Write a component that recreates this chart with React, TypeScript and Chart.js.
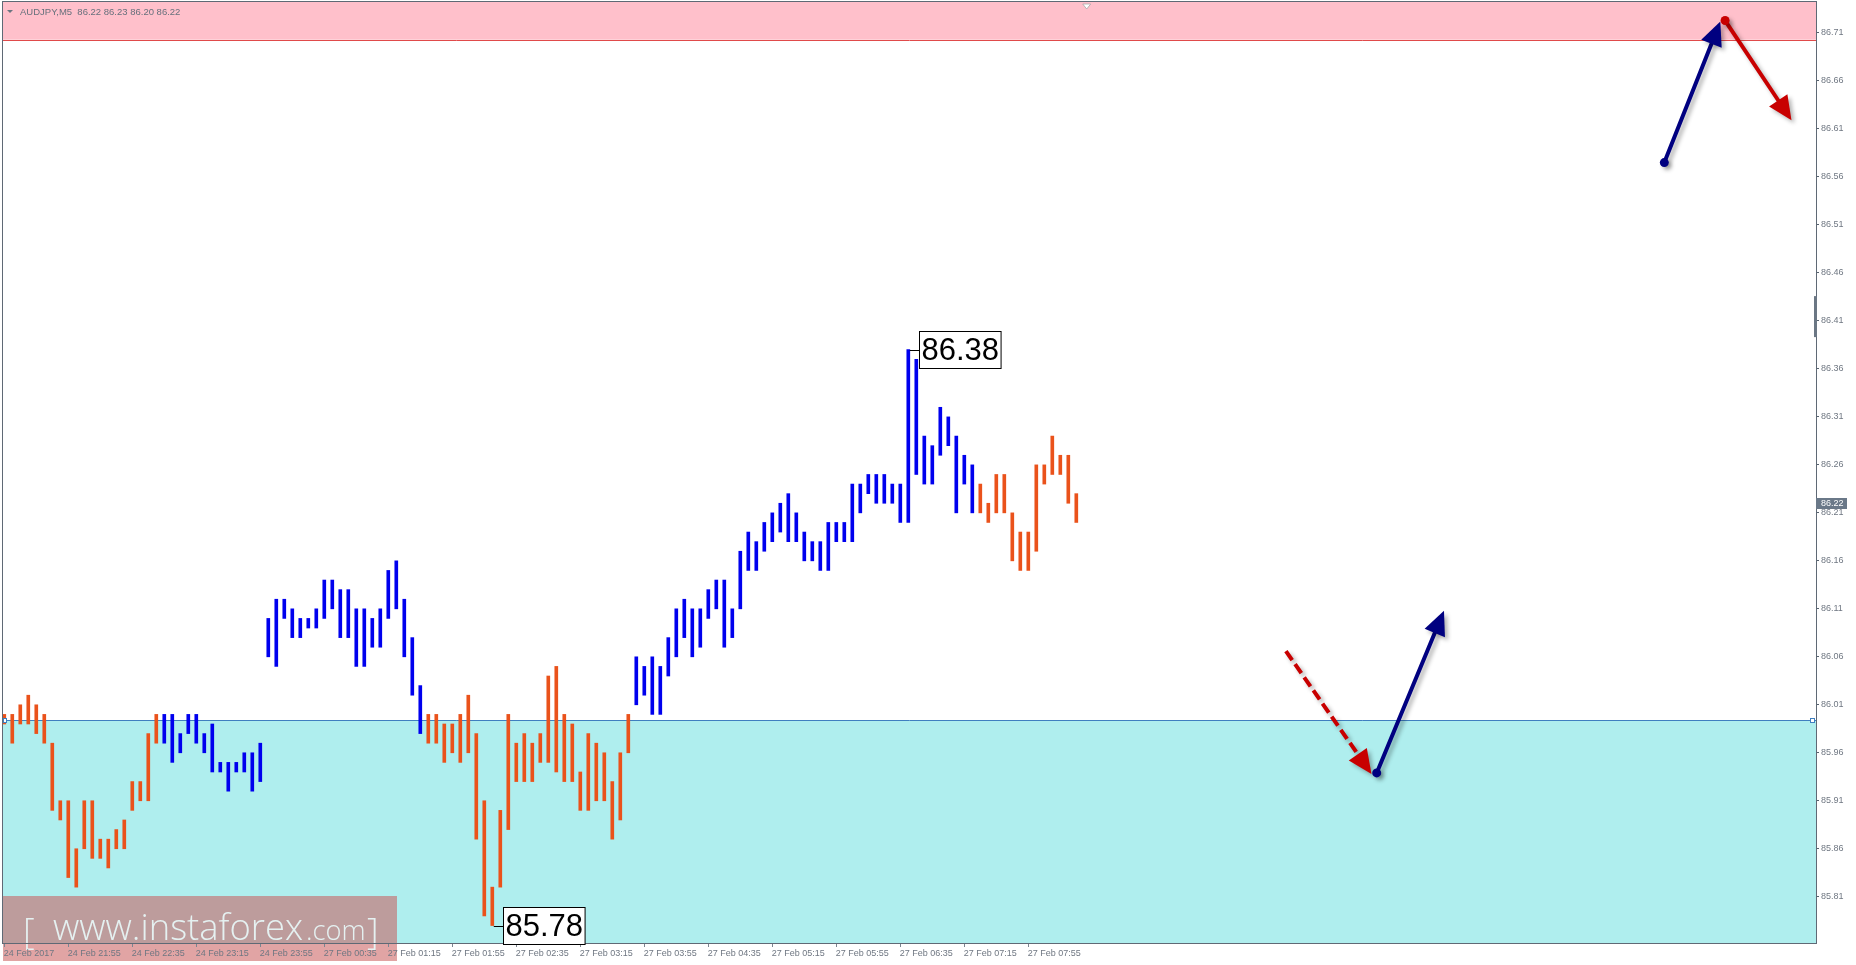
import React, { useEffect, useRef } from "react";
import { Chart, registerables } from "chart.js";

Chart.register(...registerables);

const W = 1856;
const H = 965;
const FONT = '"Liberation Sans", Arial, sans-serif';

// ---- data (AUDJPY M5, bar index 0 = 24 Feb 21:15) ----
const barLows = [
  85.99, 85.97, 85.99, 85.99, 85.98, 85.97, 85.90, 85.89, 85.83, 85.82,
  85.86, 85.85, 85.85, 85.84, 85.86, 85.86, 85.90, 85.91, 85.91, 85.97,
  85.97, 85.95, 85.96, 85.98, 85.97, 85.96, 85.94, 85.94, 85.92, 85.94,
  85.94, 85.92, 85.93, 86.06, 86.05, 86.10, 86.08, 86.08, 86.09, 86.09,
  86.10, 86.11, 86.08, 86.08, 86.05, 86.05, 86.07, 86.07, 86.10, 86.11,
  86.06, 86.02, 85.98, 85.97, 85.97, 85.95, 85.96, 85.95, 85.96, 85.87,
  85.79, 85.78, 85.82, 85.88, 85.93, 85.93, 85.93, 85.95, 85.95, 85.94,
  85.93, 85.93, 85.90, 85.90, 85.91, 85.91, 85.87, 85.89, 85.96, 86.01,
  86.02, 86.00, 86.00, 86.04, 86.06, 86.08, 86.06, 86.07, 86.10, 86.11,
  86.07, 86.08, 86.11, 86.15, 86.15, 86.17, 86.18, 86.19, 86.18, 86.18,
  86.16, 86.16, 86.15, 86.15, 86.18, 86.18, 86.18, 86.21, 86.23, 86.22,
  86.22, 86.22, 86.20, 86.20, 86.25, 86.24, 86.24, 86.27, 86.28, 86.21,
  86.24, 86.21, 86.21, 86.20, 86.21, 86.21, 86.16, 86.15, 86.15, 86.17,
  86.24, 86.25, 86.25, 86.22, 86.20,
];
const barHighs = [
  86.00, 86.00, 86.01, 86.02, 86.01, 86.00, 85.97, 85.91, 85.91, 85.86,
  85.91, 85.91, 85.87, 85.87, 85.88, 85.89, 85.93, 85.93, 85.98, 86.00,
  86.00, 86.00, 85.98, 86.00, 86.00, 85.98, 85.99, 85.95, 85.95, 85.95,
  85.96, 85.96, 85.97, 86.10, 86.12, 86.12, 86.11, 86.10, 86.10, 86.11,
  86.14, 86.14, 86.13, 86.13, 86.11, 86.11, 86.10, 86.11, 86.15, 86.16,
  86.12, 86.08, 86.03, 86.00, 86.00, 85.99, 85.99, 86.00, 86.02, 85.98,
  85.91, 85.82, 85.90, 86.00, 85.97, 85.98, 85.97, 85.98, 86.04, 86.05,
  86.00, 85.99, 85.94, 85.98, 85.97, 85.96, 85.93, 85.96, 86.00, 86.06,
  86.05, 86.06, 86.05, 86.08, 86.11, 86.12, 86.11, 86.11, 86.13, 86.14,
  86.14, 86.11, 86.17, 86.19, 86.18, 86.20, 86.21, 86.22, 86.23, 86.21,
  86.19, 86.18, 86.18, 86.20, 86.20, 86.20, 86.24, 86.24, 86.25, 86.25,
  86.25, 86.24, 86.24, 86.38, 86.37, 86.29, 86.28, 86.32, 86.31, 86.29,
  86.27, 86.26, 86.24, 86.22, 86.25, 86.25, 86.21, 86.19, 86.19, 86.26,
  86.26, 86.29, 86.27, 86.27, 86.23,
];
// wave colouring: [first bar, last bar, direction]
const waveSegments: [number, number, string][] = [
  [0, 19, "down"],
  [20, 52, "up"],
  [53, 78, "down"],
  [79, 121, "up"],
  [122, 134, "down"],
];
const xTickBars = [0, 8, 16, 24, 32, 40, 48, 56, 64, 72, 80, 88, 96, 104, 112, 120, 128];
const xTickLabels = [
  "24 Feb 2017", "24 Feb 21:55", "24 Feb 22:35", "24 Feb 23:15", "24 Feb 23:55",
  "27 Feb 00:35", "27 Feb 01:15", "27 Feb 01:55", "27 Feb 02:35", "27 Feb 03:15",
  "27 Feb 03:55", "27 Feb 04:35", "27 Feb 05:15", "27 Feb 05:55", "27 Feb 06:35",
  "27 Feb 07:15", "27 Feb 07:55",
];
const yTickValues = [
  86.71, 86.66, 86.61, 86.56, 86.51, 86.46, 86.41, 86.36, 86.31, 86.26,
  86.21, 86.16, 86.11, 86.06, 86.01, 85.96, 85.91, 85.86, 85.81,
];
const xMin = -0.16;
const xMax = 226.46;
const yMin = 85.7618;
const yMax = 86.7423;
const resistanceZoneLow = 86.703;
const supportZoneHigh = 85.994;
const extremeMarks = [
  { bar: 113, price: 86.38 },
  { bar: 61, price: 85.78 },
];
const lastPrice = 86.22;
const headerText = "AUDJPY,M5  86.22 86.23 86.20 86.22";
// forecast arrows in (bar index, price)
const arrowFromBar = [207.5, 215.1, 160.2, 171.55];
const arrowFromPrice = [86.575, 86.723, 86.066, 85.939];
const arrowToBar = [214.5, 223.4, 170.9, 179.96];
const arrowToPrice = [86.722, 86.619, 85.938, 86.108];
const arrowColors = ["#000080", "#c80000", "#c80000", "#000080"];
const arrowDashed = [false, false, true, false];
const arrowDot = [true, true, false, true];

const BLUE = "#0000ee";
const ORANGE = "#ea521b";

function barColor(i: number) {
  const s = waveSegments.find(([a, b]) => i >= a && i <= b);
  return s && s[2] === "up" ? BLUE : ORANGE;
}

function drawArrow(
  ctx: CanvasRenderingContext2D,
  x1: number, y1: number, x2: number, y2: number,
  color: string, dashed: boolean, dot: boolean
) {
  const ang = Math.atan2(y2 - y1, x2 - x1);
  const headLen = 24;
  const headW = 11;
  const c = Math.cos(ang), s = Math.sin(ang);
  const bx = x2 - headLen * c, by = y2 - headLen * s;
  ctx.save();
  ctx.shadowColor = "rgba(0,0,0,0.3)";
  ctx.shadowBlur = 4;
  ctx.shadowOffsetX = 3;
  ctx.shadowOffsetY = 3;
  ctx.strokeStyle = color;
  ctx.fillStyle = color;
  ctx.lineWidth = 4;
  ctx.lineCap = dashed ? "butt" : "round";
  if (dashed) ctx.setLineDash([11, 5]);
  ctx.beginPath();
  ctx.moveTo(x1, y1);
  ctx.lineTo(bx + 2 * c, by + 2 * s);
  ctx.stroke();
  ctx.setLineDash([]);
  ctx.beginPath();
  ctx.moveTo(x2, y2);
  ctx.lineTo(bx + headW * s, by - headW * c);
  ctx.lineTo(bx - headW * s, by + headW * c);
  ctx.closePath();
  ctx.fill();
  if (dot) {
    ctx.beginPath();
    ctx.arc(x1, y1, 4.5, 0, Math.PI * 2);
    ctx.fill();
  }
  ctx.restore();
}

const mt4Plugin = {
  id: "mt4",
  beforeDraw(chart: any) {
    const { ctx, chartArea: a, scales } = chart;
    const y = scales.y;
    const w = a.right - a.left;
    ctx.save();
    // resistance zone
    const yPink = y.getPixelForValue(resistanceZoneLow);
    ctx.fillStyle = "#ffc0cb";
    ctx.fillRect(a.left, a.top, w, yPink - a.top);
    ctx.strokeStyle = "#e04a4a";
    ctx.lineWidth = 1;
    ctx.beginPath();
    ctx.moveTo(a.left, Math.round(yPink) + 0.5);
    ctx.lineTo(a.right, Math.round(yPink) + 0.5);
    ctx.stroke();
    // support zone
    const yCyan = y.getPixelForValue(supportZoneHigh);
    ctx.fillStyle = "#afeeee";
    ctx.fillRect(a.left, yCyan, w, a.bottom - yCyan);
    ctx.strokeStyle = "#3f7fc0";
    ctx.beginPath();
    ctx.moveTo(a.left, Math.round(yCyan) + 0.5);
    ctx.lineTo(a.right, Math.round(yCyan) + 0.5);
    ctx.stroke();
    // watermark
    const wmTop = a.bottom - 47;
    ctx.fillStyle = "rgba(200,90,90,0.55)";
    ctx.fillRect(a.left, wmTop, 394, 65);
    ctx.fillStyle = "rgba(232,248,248,0.92)";
    ctx.textBaseline = "alphabetic";
    ctx.textAlign = "left";
    const base = a.bottom - 3;
    ctx.font = `300 37px "Open Sans", ${FONT}`;
    const mw = ctx.measureText("www.instaforex").width;
    const fs = 37 * 250 / mw;
    ctx.font = `300 ${fs}px "Open Sans", ${FONT}`;
    ctx.fillText("www.instaforex", a.left + 50, base);
    ctx.font = `300 ${fs * 0.75}px "Open Sans", ${FONT}`;
    ctx.fillText(".com", a.left + 303, base);
    ctx.font = `200 ${fs * 1.0}px "Open Sans", ${FONT}`;
    ctx.fillText("[", a.left + 20, base + 4);
    ctx.fillText("]", a.left + 364, base + 4);
    ctx.restore();
  },
  afterDraw(chart: any) {
    const { ctx, chartArea: a, scales } = chart;
    const x = scales.x, y = scales.y;
    ctx.save();
    // frame
    ctx.strokeStyle = "#5f6975";
    ctx.lineWidth = 1;
    ctx.strokeRect(a.left - 0.5, a.top - 0.5, a.right - a.left + 1, a.bottom - a.top + 1);
    // markers on the support line
    const yCyan = Math.round(y.getPixelForValue(supportZoneHigh));
    ctx.fillStyle = "#ffffff";
    ctx.strokeStyle = "#3f7fc0";
    ctx.fillRect(a.left, yCyan - 2, 4, 5);
    ctx.strokeRect(a.left + 0.5, yCyan - 1.5, 3, 4);
    ctx.fillRect(a.right - 6, yCyan - 2, 5, 5);
    ctx.strokeRect(a.right - 5.5, yCyan - 1.5, 4, 4);
    // scale marker
    const ym = y.getPixelForValue(86.415);
    ctx.fillStyle = "#6b7784";
    ctx.fillRect(a.right - 2, ym - 20, 3, 41);
    // chart shift triangle
    const ts = x.getPixelForValue(barLows.length + 0.3);
    ctx.fillStyle = "#ffffff";
    ctx.strokeStyle = "rgba(160,160,160,0.7)";
    ctx.beginPath();
    ctx.moveTo(ts - 4, a.top + 2);
    ctx.lineTo(ts + 4, a.top + 2);
    ctx.lineTo(ts, a.top + 7);
    ctx.closePath();
    ctx.fill();
    ctx.stroke();
    // header
    ctx.fillStyle = "#6b7580";
    ctx.beginPath();
    ctx.moveTo(a.left + 4, a.top + 8);
    ctx.lineTo(a.left + 10, a.top + 8);
    ctx.lineTo(a.left + 7, a.top + 11);
    ctx.closePath();
    ctx.fill();
    ctx.font = `9.5px ${FONT}`;
    ctx.textBaseline = "middle";
    ctx.textAlign = "left";
    ctx.fillStyle = "#66707c";
    ctx.fillText(headerText, a.left + 17, a.top + 10);
    // last price tag
    const yp = y.getPixelForValue(lastPrice);
    ctx.fillStyle = "#6a7888";
    ctx.fillRect(a.right, Math.round(yp) - 5, 31, 11);
    ctx.fillStyle = "#ffffff";
    ctx.font = `9px ${FONT}`;
    ctx.fillText(lastPrice.toFixed(2), a.right + 5, Math.round(yp) + 0.5);
    // extreme labels
    extremeMarks.forEach((m) => {
      const bx = x.getPixelForValue(m.bar);
      const py = y.getPixelForValue(m.price);
      ctx.font = `31px ${FONT}`;
      const txt = m.price.toFixed(2);
      const tw = ctx.measureText(txt).width;
      const left = Math.round(bx + 11) + 0.5;
      const top = Math.round(py - 19) + 0.5;
      ctx.strokeStyle = "#000000";
      ctx.lineWidth = 1;
      ctx.beginPath();
      ctx.moveTo(bx + 1.5, Math.round(py) + 0.5);
      ctx.lineTo(left, Math.round(py) + 0.5);
      ctx.stroke();
      ctx.fillStyle = "#ffffff";
      ctx.fillRect(left, top, tw + 4, 37);
      ctx.strokeRect(left, top, tw + 4, 37);
      ctx.fillStyle = "#000000";
      ctx.textBaseline = "middle";
      ctx.fillText(txt, left + 2, top + 19.5);
    });
    // forecast arrows
    for (let i = 0; i < arrowColors.length; i++) {
      drawArrow(
        ctx,
        x.getPixelForValue(arrowFromBar[i]), y.getPixelForValue(arrowFromPrice[i]),
        x.getPixelForValue(arrowToBar[i]), y.getPixelForValue(arrowToPrice[i]),
        arrowColors[i], arrowDashed[i], arrowDot[i]
      );
    }
    ctx.restore();
  },
};

export default function App() {
  const ref = useRef<HTMLCanvasElement | null>(null);
  useEffect(() => {
    document.body.style.margin = "0";
    const canvas = ref.current;
    if (!canvas) return;
    const chart = new Chart(canvas, {
      type: "bar",
      data: {
        datasets: [
          {
            data: barLows.map((lo, i) => ({ x: i, y: [lo, barHighs[i]] })) as any,
            backgroundColor: barLows.map((_, i) => barColor(i)),
            borderWidth: 0,
            barThickness: 3,
          },
        ],
      },
      options: {
        animation: false,
        responsive: false,
        devicePixelRatio: 1,
        events: [],
        layout: { padding: { left: 3, top: 2, right: 0, bottom: 0 } },
        plugins: { legend: { display: false }, tooltip: { enabled: false } },
        scales: {
          x: {
            type: "linear",
            min: xMin,
            max: xMax,
            offset: false,
            afterBuildTicks: (s: any) => {
              s.ticks = xTickBars.map((v) => ({ value: v }));
            },
            afterFit: (s: any) => {
              s.height = 22;
              s.paddingLeft = 0;
              s.paddingRight = 0;
            },
            grid: {
              display: true,
              offset: false,
              drawOnChartArea: false,
              drawTicks: true,
              tickLength: 4,
              color: "#7d8590",
            },
            border: { display: false },
            ticks: {
              autoSkip: false,
              maxRotation: 0,
              minRotation: 0,
              align: "start",
              padding: 1,
              labelOffset: -0.5,
              color: "#6f7782",
              font: { family: FONT, size: 9 },
              callback: (_v: any, i: number) => xTickLabels[i] ?? "",
            },
          } as any,
          y: {
            type: "linear",
            position: "right",
            min: yMin,
            max: yMax,
            afterBuildTicks: (s: any) => {
              s.ticks = yTickValues.map((v) => ({ value: v }));
            },
            afterFit: (s: any) => {
              s.width = 40;
              s.paddingTop = 0;
              s.paddingBottom = 0;
            },
            grid: {
              drawOnChartArea: false,
              drawTicks: true,
              tickLength: 3,
              color: "#56626e",
            },
            border: { display: false },
            ticks: {
              padding: 2,
              color: "#6f7782",
              font: { family: FONT, size: 9 },
              callback: (v: any) => Number(v).toFixed(2),
            },
          } as any,
        },
      },
      plugins: [mt4Plugin],
    });
    return () => chart.destroy();
  }, []);
  return (
    <div style={{ width: W, height: H }}>
      <canvas ref={ref} width={W} height={H} style={{ display: "block" }} />
    </div>
  );
}
